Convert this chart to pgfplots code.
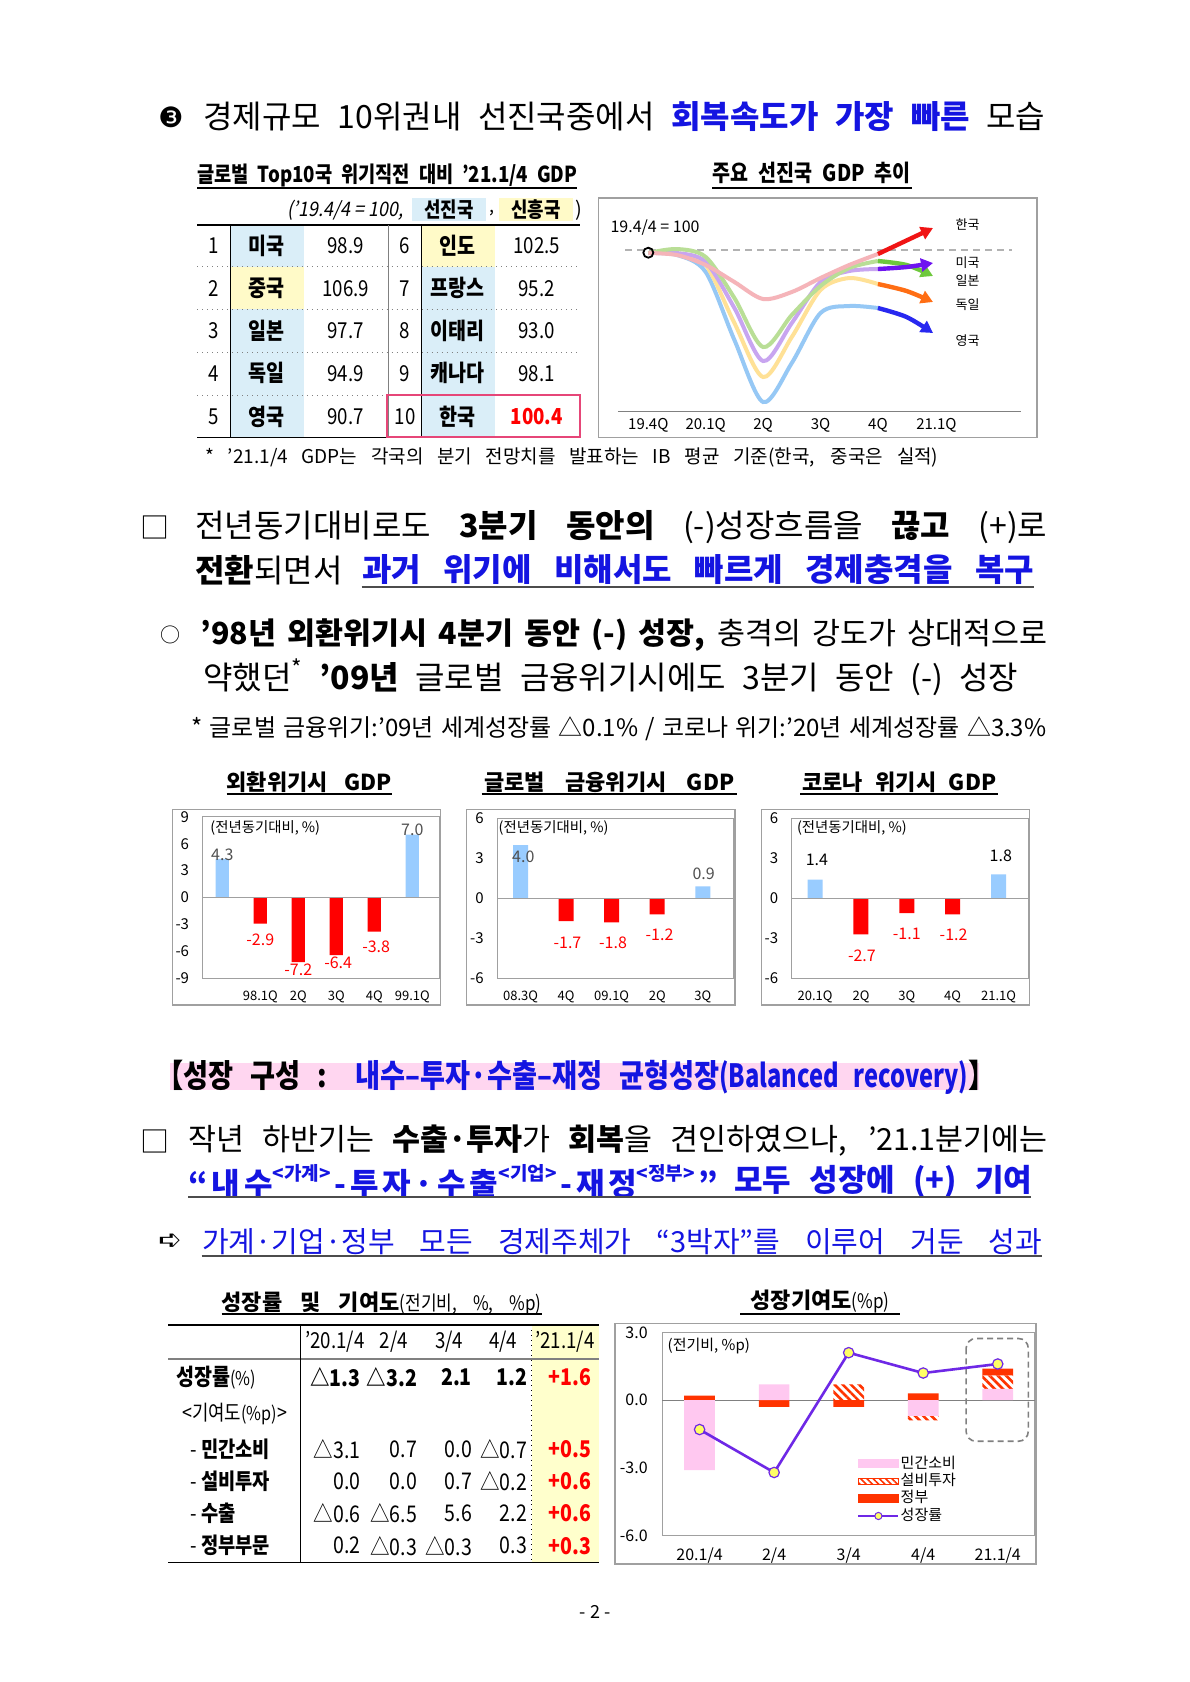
\documentclass[border=0pt]{standalone}
\usepackage{fontspec}
\setmainfont{Noto Sans CJK KR}
\newfontfamily\cond{Noto Sans CJK KR}[FakeStretch=0.85]
\newfontfamily\narrow{Noto Sans CJK KR}[FakeStretch=0.74]
\newfontfamily\slant{Noto Sans CJK KR}[FakeSlant=0.18,FakeStretch=0.9]
\newfontfamily\dejavu{DejaVu Sans}
\usepackage{pgfplots}
\pgfplotsset{compat=1.18}
\usetikzlibrary{arrows.meta,patterns.meta}
\newcommand\fs[1]{\fontsize{#1bp}{#1bp}\selectfont}
\newcommand\sps[1]{\raisebox{0.5em}{\fs{9.5}#1}}
\newcommand\gap{\hspace{0pt plus 1fil}}
\definecolor{tblue}{RGB}{20,20,225}
\definecolor{bgblue}{RGB}{218,238,248}
\definecolor{bgyellow}{RGB}{255,250,200}
\definecolor{bgyellow2}{RGB}{255,255,204}
\definecolor{bgpink}{RGB}{255,214,240}
\definecolor{pinkbox}{RGB}{230,70,120}
\definecolor{framegray}{RGB}{160,160,160}
\definecolor{barblue}{RGB}{153,204,255}
\definecolor{barred}{RGB}{255,0,0}
\definecolor{labgray}{RGB}{80,80,80}
\definecolor{lpink}{RGB}{245,180,185}
\definecolor{lpurple}{RGB}{200,165,240}
\definecolor{lgreen}{RGB}{185,222,150}
\definecolor{lyellow}{RGB}{255,225,150}
\definecolor{lblue}{RGB}{150,200,245}
\definecolor{dred}{RGB}{240,20,20}
\definecolor{dviolet}{RGB}{110,20,240}
\definecolor{dgreen}{RGB}{110,200,60}
\definecolor{dorange}{RGB}{255,110,20}
\definecolor{dblue}{RGB}{40,40,240}
\definecolor{cpink}{RGB}{255,200,240}
\definecolor{cred}{RGB}{255,51,0}
\definecolor{cline}{RGB}{110,40,230}
\definecolor{cyellow}{RGB}{255,255,100}
\pgfplotsset{
  bstyle/.style={anchor=north west, scale only axis, major tick length=0pt,
    axis line style={draw=framegray, line width=0.6bp},
    yticklabel style={font=\fs{7.5}, xshift=-3.3bp},
    xticklabel style={font=\fs{6.5}, yshift=-2.6bp},
    clip=false},
  posbar/.style={ybar, bar width=#1, bar shift=0pt, fill=barblue, draw=none},
  negbar/.style={ybar, bar width=#1, bar shift=0pt, fill=barred, draw=none},
  hatch/.style={draw=none, pattern={Lines[angle=-45,distance=2.9bp,line width=1.3bp]}, pattern color=cred},
}
\begin{document}
\begin{tikzpicture}
% ---------- backgrounds ----------
\begin{scope}[x=0.5bp,y=-0.5bp]
\fill[white] (0,0) rectangle (1190,1682);
\fill[bgblue] (230.7,225) rectangle (304,437.3);
\fill[bgyellow] (230.7,266.7) rectangle (304,309.3);
\fill[bgblue] (421.7,225) rectangle (495,437.3);
\fill[bgyellow] (421.7,225) rectangle (495,266.7);
\fill[bgblue] (412.3,198.3) rectangle (486,220.7);
\fill[bgyellow] (499,198.3) rectangle (573.3,220.7);
\fill[bgpink] (170,1063.3) rectangle (979,1090);
\fill[bgyellow2] (531.7,1325) rectangle (599.3,1562.3);
\draw[framegray, line width=0.75bp] (172.7,809.3) rectangle (440.7,1005);
\draw[framegray, line width=0.75bp] (466.7,809.3) rectangle (735,1005);
\draw[framegray, line width=0.75bp] (761.7,809.3) rectangle (1029.3,1005);
\draw[framegray, line width=0.75bp] (615,1323.3) rectangle (1036,1564);
\end{scope}

% ---------- curve chart: major advanced economies ----------
\begin{axis}[anchor=north west, scale only axis, at={(299.15bp,-98.85bp)}, width=219.2bp, height=119.8bp,
  xmin=-0.871, xmax=6.767, ymin=81.27, ymax=105.23, xtick=\empty, ytick=\empty,
  axis line style={draw=framegray, line width=0.8bp}, clip=false]
\addplot[gray!60, line width=0.6bp, dash pattern=on 3.5bp off 2.5bp] coordinates {(-0.405,100) (6.33,100)};
\draw[gray, line width=0.6bp] (axis cs:-0.53,83.83) -- (axis cs:6.5,83.83);
\addplot[only marks, mark=o, mark size=2.5bp, mark options={line width=0.9bp, black}] coordinates {(0,99.73)};
\addplot[lblue, line width=2bp, smooth] coordinates {(0,99.7) (0.5,99.5) (1,97.8) (1.5,91) (2,84.8) (2.5,88.7) (3,93.7) (3.5,94.4) (4,94.2)};
\addplot[lyellow, line width=2bp, smooth] coordinates {(0,99.7) (0.5,99.6) (1,98.5) (1.5,92.7) (2,87.3) (2.5,91.3) (3,96) (3.5,97.2) (4,96.6)};
\addplot[lpurple, line width=2bp, smooth] coordinates {(0,99.7) (0.5,99.7) (1,98.8) (1.5,94.2) (2,88.9) (2.5,92.7) (3,96.8) (3.5,97.9) (4,98.1)};
\addplot[lgreen, line width=2bp, smooth] coordinates {(0,99.7) (0.5,100.1) (1,99.3) (1.5,95.2) (2,90.3) (2.5,93.5) (3,96.4) (3.5,98.2) (4,98.9)};
\addplot[lpink, line width=2bp, smooth] coordinates {(0,99.7) (0.5,99.5) (1,98.5) (1.5,96.8) (2,95.1) (2.5,95.8) (3,97.2) (3.5,98.5) (4,99.6)};
\addplot[dblue, line width=2.2bp, smooth, -{Triangle[length=6bp,width=6.5bp]}] coordinates {(4,94.2) (4.5,93.3) (4.96,91.7)};
\addplot[dorange, line width=2.2bp, smooth, -{Triangle[length=6bp,width=6.5bp]}] coordinates {(4,96.6) (4.5,95.9) (4.96,94.8)};
\addplot[dgreen, line width=2.2bp, smooth, -{Triangle[length=6bp,width=6.5bp]}] coordinates {(4,98.9) (4.5,98.5) (4.96,97.4)};
\addplot[dviolet, line width=2.2bp, smooth, -{Triangle[length=6bp,width=6.5bp]}] coordinates {(4,98.1) (4.5,98.3) (4.96,98.7)};
\addplot[dred, line width=2.2bp, -{Triangle[length=6bp,width=6.5bp]}] coordinates {(4,99.6) (4.96,102.2)};
\node[anchor=west, font=\fs{6.5}] at (axis cs:5.23,102.5) {한국};
\node[anchor=west, font=\fs{6.5}] at (axis cs:5.23,98.73) {미국};
\node[anchor=west, font=\fs{6.5}] at (axis cs:5.23,96.93) {일본};
\node[anchor=west, font=\fs{6.5}] at (axis cs:5.23,94.5) {독일};
\node[anchor=west, font=\fs{6.5}] at (axis cs:5.23,90.93) {영국};
\node[anchor=west, font=\fs{8}] at (axis cs:-0.78,102.27) {19.4/4 = 100};
\node[font=\fs{7.5}] at (axis cs:0,82.5) {19.4Q};
\node[font=\fs{7.5}] at (axis cs:1,82.5) {20.1Q};
\node[font=\fs{7.5}] at (axis cs:2,82.5) {2Q};
\node[font=\fs{7.5}] at (axis cs:3,82.5) {3Q};
\node[font=\fs{7.5}] at (axis cs:4,82.5) {4Q};
\node[font=\fs{7.5}] at (axis cs:5.02,82.5) {21.1Q};
\end{axis}

% ---------- bar chart 1: FX crisis ----------
\begin{axis}[bstyle, at={(101.35bp,-408.35bp)}, width=118.65bp, height=80.8bp,
  xmin=-0.516, xmax=5.73, ymin=-9, ymax=9, ytick={-9,-6,-3,0,3,6,9}, yticklabels={-9,-6,-3,0,3,6,9},
  xtick={1,2,3,4,5}, xticklabels={98.1Q,2Q,3Q,4Q,99.1Q}]
\addplot[posbar=6.65bp] coordinates {(0,4.3) (5,7.0)};
\addplot[negbar=6.65bp] coordinates {(1,-2.9) (2,-7.2) (3,-6.4) (4,-3.8)};
\draw[framegray, line width=0.6bp] (axis cs:-0.516,0) -- (axis cs:5.73,0);
\node[font=\fs{8}, text=labgray] at (axis cs:0,4.74) {4.3};
\node[font=\fs{8}, text=barred] at (axis cs:1,-4.7) {-2.9};
\node[font=\fs{8}, text=barred] at (axis cs:2,-8.04) {-7.2};
\node[font=\fs{8}, text=barred] at (axis cs:3.05,-7.3) {-6.4};
\node[font=\fs{8}, text=barred] at (axis cs:4.05,-5.44) {-3.8};
\node[font=\fs{8}, text=labgray] at (axis cs:5,7.52) {7.0};
\end{axis}

% ---------- bar chart 2: GFC ----------
\begin{axis}[bstyle, at={(248.65bp,-409.15bp)}, width=118bp, height=80bp,
  xmin=-0.51, xmax=4.67, ymin=-6, ymax=6, ytick={-6,-3,0,3,6}, yticklabels={-6,-3,0,3,6},
  xtick={0,1,2,3,4}, xticklabels={08.3Q,4Q,09.1Q,2Q,3Q}]
\addplot[posbar=7.5bp] coordinates {(0,4.0) (4,0.9)};
\addplot[negbar=7.5bp] coordinates {(1,-1.7) (2,-1.8) (3,-1.2)};
\draw[framegray, line width=0.6bp] (axis cs:-0.51,0) -- (axis cs:4.67,0);
\node[font=\fs{8}, text=labgray] at (axis cs:0.06,3.1) {4.0};
\node[font=\fs{8}, text=barred] at (axis cs:1.03,-3.32) {-1.7};
\node[font=\fs{8}, text=barred] at (axis cs:2.03,-3.32) {-1.8};
\node[font=\fs{8}, text=barred] at (axis cs:3.05,-2.75) {-1.2};
\node[font=\fs{8}, text=labgray] at (axis cs:4.02,1.84) {0.9};
\end{axis}

% ---------- bar chart 3: COVID ----------
\begin{axis}[bstyle, at={(395.85bp,-409.15bp)}, width=118.3bp, height=80bp,
  xmin=-0.51, xmax=4.65, ymin=-6, ymax=6, ytick={-6,-3,0,3,6}, yticklabels={-6,-3,0,3,6},
  xtick={0,1,2,3,4}, xticklabels={20.1Q,2Q,3Q,4Q,21.1Q}]
\addplot[posbar=7.5bp] coordinates {(0,1.4) (4,1.8)};
\addplot[negbar=7.5bp] coordinates {(1,-2.7) (2,-1.1) (3,-1.2)};
\draw[framegray, line width=0.6bp] (axis cs:-0.51,0) -- (axis cs:4.65,0);
\node[font=\fs{8}] at (axis cs:0.04,2.85) {1.4};
\node[font=\fs{8}, text=barred] at (axis cs:1.02,-4.28) {-2.7};
\node[font=\fs{8}, text=barred] at (axis cs:2,-2.7) {-1.1};
\node[font=\fs{8}, text=barred] at (axis cs:3.02,-2.7) {-1.2};
\node[font=\fs{8}] at (axis cs:4.05,3.17) {1.8};
\end{axis}

% ---------- bottom chart: contributions (stacked bars, negatives stacked separately) ----------
\begin{axis}[anchor=north west, scale only axis, at={(331.15bp,-666.15bp)}, width=186.35bp, height=101.7bp,
  xmin=-0.5, xmax=4.5, ymin=-6, ymax=3, ybar stacked, bar width=15.35bp,
  xtick={0,1,2,3,4}, xticklabels={20.1/4,2/4,3/4,4/4,21.1/4},
  ytick={-6,-3,0,3}, yticklabels={-6.0,-3.0,0.0,3.0},
  major tick length=0pt, axis line style={draw=framegray, line width=0.6bp},
  tick label style={font=\fs{8}}, yticklabel style={xshift=-3.8bp}, xticklabel style={yshift=-2.4bp}, clip=false]
\addplot[draw=none, fill=cpink] coordinates {(0,-3.1) (1,0.7) (2,0.0) (3,-0.7) (4,0.5)};
\addplot[hatch] coordinates {(0,0.0) (1,0.0) (2,0.7) (3,-0.2) (4,0.6)};
\addplot[draw=none, fill=cred] coordinates {(0,0.2) (1,-0.3) (2,-0.3) (3,0.3) (4,0.3)};
\draw[gray, line width=0.6bp] (axis cs:-0.5,0) -- (axis cs:4.5,0);
\draw[gray, line width=0.8bp, rounded corners=5bp, dash pattern=on 3bp off 2bp] (axis cs:3.575,2.73) rectangle (axis cs:4.41,-1.82);
\end{axis}
\begin{axis}[anchor=north west, scale only axis, at={(331.15bp,-666.15bp)}, width=186.35bp, height=101.7bp,
  xmin=-0.5, xmax=4.5, ymin=-6, ymax=3, hide axis, clip=false,
  legend style={at={(0.5216,0.397)}, anchor=north west, draw=none, fill=none, font=\fs{7.5},
    inner sep=0pt, row sep=0.3bp, nodes={inner sep=0.5bp, text height=5.8bp, text depth=1.6bp}},
  legend cell align=left]
\addlegendimage{legend image code/.code={\fill[cpink] (0bp,-2bp) rectangle (20bp,2bp);}}
\addlegendimage{legend image code/.code={\path[pattern={Lines[angle=-45,distance=2.2bp,line width=0.8bp]}, pattern color=cred] (0bp,-1.5bp) rectangle (20bp,1.5bp); \draw[cred, line width=0.5bp] (0bp,-1.5bp) rectangle (20bp,1.5bp);}}
\addlegendimage{legend image code/.code={\fill[cred] (0bp,-2bp) rectangle (20bp,2bp);}}
\addplot[cline, line width=1.3bp, mark=*, mark size=2.6bp, mark options={fill=cyellow, draw=cline, line width=0.6bp},
  legend image code/.code={\draw[cline, line width=1.3bp] (0bp,0bp) -- (20bp,0bp); \draw[cline, fill=cyellow, line width=0.5bp] (10bp,0bp) circle (1.8bp);}]
  coordinates {(0,-1.3) (1,-3.2) (2,2.1) (3,1.2) (4,1.6)};
\legend{민간소비,설비투자,정부,성장률}
\end{axis}

% ---------- texts ----------
\begin{scope}[x=0.5bp,y=-0.5bp]
% title
\node[anchor=west, inner sep=0pt] at (158,117) {\dejavu\fs{14}❸};
\node[anchor=west, inner sep=0pt] at (203,117) {\fs{16}\makebox[421bp][s]{경제규모 10위권내 선진국중에서 \textcolor{tblue}{\bfseries 회복속도가 가장 빠른} 모습}};
% left table
\node[anchor=west, inner sep=0pt] at (197,175) {\cond\bfseries\fs{11}\makebox[190bp][s]{글로벌 Top10국 위기직전 대비 ’21.1/4 GDP}};
\draw[line width=0.6bp] (197,188) -- (577,188);
\node[anchor=east, inner sep=0pt] at (404,210) {\slant\fs{10}(’19.4/4 = 100,};
\node at (449.2,210) {\cond\bfseries\fs{10.5}선진국};
\node[anchor=west, inner sep=0pt] at (489,213) {\fs{9},};
\node at (536.2,210) {\cond\bfseries\fs{10.5}신흥국};
\node[anchor=west, inner sep=0pt] at (575,210) {\fs{10})};
\draw[line width=0.7bp] (197.3,225) -- (580,225);
\draw[line width=0.7bp] (197.3,437.3) -- (580,437.3);
\foreach \yy in {266.7,309.3,352.3,395} {\draw[gray, dotted, line width=0.5bp] (197.3,\yy) -- (580,\yy);}
\draw[line width=0.5bp] (230.7,225) -- (230.7,437.3);
\draw[line width=0.5bp] (421.7,225) -- (421.7,437.3);
\draw[gray, line width=0.4bp] (388.3,225) -- (388.3,437.3);
\foreach \n/\c/\v/\m/\d/\w/\yy in {1/미국/98.9/6/인도/102.5/245.7, 2/중국/106.9/7/프랑스/95.2/288.3, 3/일본/97.7/8/이태리/93.0/330.7, 4/독일/94.9/9/캐나다/98.1/373.3}{
  \node at (213.3,\yy) {\cond\fs{11}\n};
  \node at (266.7,\yy) {\cond\bfseries\fs{11.5}\c};
  \node at (345.7,\yy) {\cond\fs{11}\v};
  \node at (405,\yy) {\cond\fs{11}\m};
  \node at (457.7,\yy) {\cond\bfseries\fs{11.5}\d};
  \node at (536.7,\yy) {\cond\fs{11}\w};
}
\node at (213.3,416.7) {\cond\fs{11}5};
\node at (266.7,416.7) {\cond\bfseries\fs{11.5}영국};
\node at (345.7,416.7) {\cond\fs{11}90.7};
\node at (405,416.7) {\cond\fs{11}10};
\node at (457.7,416.7) {\cond\bfseries\fs{11.5}한국};
\node at (536.7,416.7) {\cond\bfseries\fs{11}\textcolor{barred}{100.4}};
\draw[pinkbox, line width=1bp] (387.3,395) rectangle (580,437.3);
\node[anchor=west, inner sep=0pt] at (205,457) {\fs{9.5}\makebox[366.5bp][s]{* ’21.1/4 GDP는 각국의 분기 전망치를 발표하는 IB 평균 기준(한국, 중국은 실적)}};
% right chart title
\node at (811.7,173.3) {\cond\bfseries\fs{11.5}\makebox[99bp][s]{주요 선진국 GDP 추이}};
\draw[line width=0.6bp] (712.3,188) -- (911.7,188);
% section C
\node at (155,527) {\fs{14.5}□};
\node[anchor=west, inner sep=0pt] at (195,527) {\fs{16}\makebox[426bp][s]{전년동기대비로도 \textbf{3분기 동안의} (-)성장흐름을 \textbf{끊고} (+)로}};
\node[anchor=west, inner sep=0pt] at (195,570) {\fs{16}\textbf{전환}되면서};
\node[anchor=west, inner sep=0pt] at (361.7,570) {\fs{16}\bfseries\color{tblue}\makebox[336bp][s]{과거 위기에 비해서도 빠르게 경제충격을 복구}};
\draw[black!70, line width=0.8bp] (361.7,587) -- (1034,587);
\node at (170,635) {\fs{10}○};
\node[anchor=west, inner sep=0pt] at (200,635) {\fs{15.2}\makebox[423.5bp][s]{\textbf{’98년 외환위기시 4분기 동안 (-) 성장,} 충격의 강도가 상대적으로}};
\node[anchor=west, inner sep=0pt] at (203,677) {\fs{16}\makebox[407.5bp][s]{약했던\textsuperscript{*} \textbf{’09년} 글로벌 금융위기시에도 3분기 동안 (-) 성장}};
\node[anchor=west, inner sep=0pt] at (191,729) {\fs{12}\makebox[427.5bp][s]{* 글로벌 금융위기:’09년 세계성장률 △0.1\% / 코로나 위기:’20년 세계성장률 △3.3\%}};
% bar chart titles
\node at (309.2,782) {\bfseries\fs{11}\makebox[82.5bp][s]{외환위기시 GDP}};
\draw[line width=0.6bp] (226.7,794) -- (391.7,794);
\node at (609.2,782) {\bfseries\fs{11}\makebox[125bp][s]{글로벌 금융위기시 GDP}};
\draw[line width=0.6bp] (481.7,794) -- (736.7,794);
\node at (899.2,782) {\bfseries\fs{11}\makebox[97bp][s]{코로나 위기시 GDP}};
\draw[line width=0.6bp] (800,794) -- (998.3,794);
\node[anchor=west, inner sep=0pt] at (210,828.3) {\fs{7.2}(전년동기대비, \%)};
\node[anchor=west, inner sep=0pt] at (498.3,828.3) {\fs{7.2}(전년동기대비, \%)};
\node[anchor=west, inner sep=0pt] at (796.7,828.3) {\fs{7.2}(전년동기대비, \%)};
% section E
\node[anchor=west, inner sep=0pt] at (156,1077) {\cond\bfseries\fs{16}\makebox[419.5bp][s]{【성장 구성 : \textcolor{tblue}{내수–투자·수출–재정 균형성장{\narrow(Balanced recovery)}}】}};
\node at (155,1141) {\fs{14.5}□};
\node[anchor=west, inner sep=0pt] at (188,1141) {\fs{15.2}\makebox[429.5bp][s]{작년 하반기는 \textbf{수출·투자}가 \textbf{회복}을 견인하였으나, ’21.1분기에는}};
\node[anchor=west, inner sep=0pt] at (188,1181.7) {\bfseries\fs{15.5}\color{tblue}\makebox[265bp][s]{“\gap 내\gap 수\sps{<가계>}\gap -\gap 투\gap 자\gap ·\gap 수\gap 출\sps{<기업>}\gap -\gap 재\gap 정\sps{<정부>}\gap ”}};
\node[anchor=west, inner sep=0pt] at (734,1181.7) {\bfseries\fs{15.5}\color{tblue}\makebox[149bp][s]{모두 성장에 (+) 기여}};
\draw[black!70, line width=0.8bp] (188,1197) -- (1031,1197);
\node at (170,1241.7) {\dejavu\fs{14}➪};
\node[anchor=west, inner sep=0pt] at (201.7,1241.7) {\fs{14.5}\color{tblue}\makebox[420bp][s]{가계·기업·정부 모든 경제주체가 “3박자”를 이루어 거둔 성과}};
\draw[black!70, line width=0.8bp] (201.7,1256) -- (1042,1256);
% bottom table
\node at (381.7,1303.3) {\makebox[160bp][s]{\bfseries\fs{11}성장률 및 기여도{\mdseries\cond\fs{10}(전기비, \%, \%p)}}};
\draw[line width=0.6bp] (221.7,1314) -- (541.7,1314);
\draw[line width=0.6bp] (168.3,1325) -- (599.3,1325);
\draw[gray, line width=1.2bp] (168.3,1359) -- (599.3,1359);
\draw[line width=0.6bp] (168.3,1562.3) -- (599.3,1562.3);
\draw[line width=0.5bp] (300.7,1325) -- (300.7,1562.3);
\draw[dotted, line width=0.5bp] (531.7,1325) -- (531.7,1562.3);
\node at (335,1341.7) {\cond\fs{11}’20.1/4};
\node at (394,1341.7) {\cond\fs{11}2/4};
\node at (449.3,1341.7) {\cond\fs{11}3/4};
\node at (503.3,1341.7) {\cond\fs{11}4/4};
\node at (565,1341.7) {\cond\fs{11}’21.1/4};
\node[anchor=west, inner sep=0pt] at (176,1377.3) {\cond\bfseries\fs{11.5}성장률{\mdseries\fs{9.5}(\%)}};
\node[anchor=west, inner sep=0pt] at (181.7,1414.3) {\cond\fs{10.5}<기여도{\fs{9.5}(\%p)}>};
\node[anchor=west, inner sep=0pt] at (190,1449.3) {\cond\fs{11}- \textbf{민간소비}};
\node[anchor=west, inner sep=0pt] at (190,1481) {\cond\fs{11}- \textbf{설비투자}};
\node[anchor=west, inner sep=0pt] at (190,1513.3) {\cond\fs{11}- \textbf{수출}};
\node[anchor=west, inner sep=0pt] at (190,1545.7) {\cond\fs{11}- \textbf{정부부문}};
\foreach \a/\b/\c/\d/\e/\yy in {△3.1/0.7/0.0/△0.7/+0.5/1449.3, 0.0/0.0/0.7/△0.2/+0.6/1481, △0.6/△6.5/5.6/2.2/+0.6/1513.3, 0.2/△0.3/△0.3/0.3/+0.3/1545.7}{
  \node[anchor=east, inner sep=0pt] at (360.7,\yy) {\cond\fs{11.5}\a};
  \node[anchor=east, inner sep=0pt] at (417.3,\yy) {\cond\fs{11.5}\b};
  \node[anchor=east, inner sep=0pt] at (472.3,\yy) {\cond\fs{11.5}\c};
  \node[anchor=east, inner sep=0pt] at (527.3,\yy) {\cond\fs{11.5}\d};
  \node[anchor=east, inner sep=0pt] at (591.7,\yy) {\cond\bfseries\fs{11.5}\textcolor{barred}{\e}};
}
\node[anchor=east, inner sep=0pt] at (360.7,1377.3) {\cond\bfseries\fs{11.5}△1.3};
\node[anchor=east, inner sep=0pt] at (417.3,1377.3) {\cond\bfseries\fs{11.5}△3.2};
\node[anchor=east, inner sep=0pt] at (472.3,1377.3) {\cond\bfseries\fs{11.5}2.1};
\node[anchor=east, inner sep=0pt] at (527.3,1377.3) {\cond\bfseries\fs{11.5}1.2};
\node[anchor=east, inner sep=0pt] at (591.7,1377.3) {\cond\bfseries\fs{11.5}\textcolor{barred}{+1.6}};
% bottom chart title
\node at (820,1301.7) {\bfseries\fs{11}성장기여도{\mdseries\cond\fs{10}(\%p)}};
\draw[line width=0.6bp] (740,1314) -- (900,1314);
\node[anchor=west, inner sep=0pt] at (667.3,1346) {\fs{7.5}(전기비, \%p)};
% page number
\node at (595,1612) {\fs{9}- 2 -};
\end{scope}
\end{tikzpicture}
\end{document}
